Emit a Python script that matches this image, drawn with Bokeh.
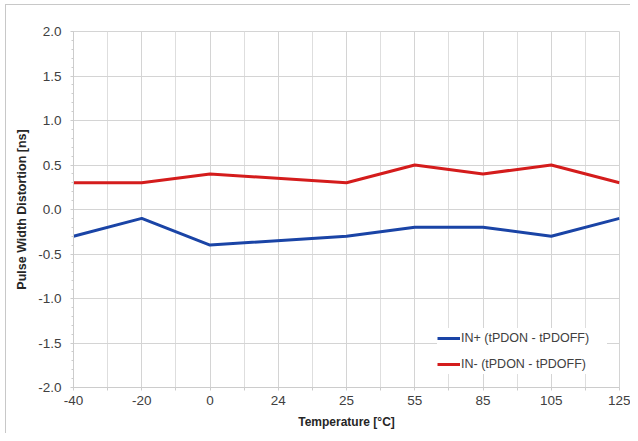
from bokeh.plotting import figure
from bokeh.models import FixedTicker, SingleIntervalTicker, NumeralTickFormatter, Range1d, Legend, LegendItem
from bokeh.embed import file_html
from bokeh.resources import INLINE

# ---- data ----
temps = ["-40", "-20", "0", "24", "25", "55", "85", "105", "125"]
in_plus = [-0.3, -0.1, -0.4, None, -0.3, -0.2, -0.2, -0.3, -0.1]
in_minus = [0.3, 0.3, 0.4, None, 0.3, 0.5, 0.4, 0.5, 0.3]
series_names = ["IN+ (tPDON - tPDOFF)", "IN- (tPDON - tPDOFF)"]
series_colors = ["#1a44a6", "#d41c1c"]

FONT = "Liberation Sans"

p = figure(width=630, height=433, output_backend="svg", toolbar_location=None,
           x_range=Range1d(0, len(temps) - 1), y_range=Range1d(-2.0, 2.0),
           min_border_left=73, min_border_top=31, min_border_right=11, min_border_bottom=46)
p.border_fill_alpha = 0
p.background_fill_color = "white"
p.styles = {
    "background": "linear-gradient(#c8c8c8, #c8c8c8) 5px 4px / 100% 1px no-repeat, "
                  "linear-gradient(#c8c8c8, #c8c8c8) 5px 4px / 1px 100% no-repeat, white",
}

p.outline_line_color = "#d4d4d4"
p.outline_line_width = 1

idx = list(range(len(temps)))
renderers = []
for vals, color in zip([in_plus, in_minus], series_colors):
    xs = [i for i, v in zip(idx, vals) if v is not None]
    ys = [v for v in vals if v is not None]
    r = p.line(xs, ys, line_color=color, line_width=3)
    renderers.append(r)

# x axis
p.xaxis.ticker = FixedTicker(ticks=idx, minor_ticks=[i + 0.5 for i in idx[:-1]])
p.xaxis.major_label_overrides = {i: t for i, t in zip(idx, temps)}
p.xaxis.axis_label = "Temperature [°C]"
p.xgrid.ticker = p.xaxis.ticker
p.xgrid.grid_line_color = "#d4d4d4"
p.xgrid.minor_grid_line_color = "#dedede"

# y axis
p.yaxis.ticker = SingleIntervalTicker(interval=0.5, num_minor_ticks=5)
p.yaxis.formatter = NumeralTickFormatter(format="0.0")
p.yaxis.axis_label = "Pulse Width Distortion [ns]"
p.ygrid.grid_line_color = "#d4d4d4"

for ax in [p.xaxis[0], p.yaxis[0]]:
    ax.axis_line_color = "#cccccc"
    ax.major_tick_line_color = "#cccccc"
    ax.minor_tick_line_color = "#cccccc"
    ax.major_tick_in = 0
    ax.minor_tick_in = 0
    ax.major_tick_out = 3
    ax.minor_tick_out = 2
    ax.major_label_text_font = FONT
    ax.major_label_text_font_size = "13.5px"
    ax.major_label_text_color = "#404040"
    ax.axis_label_text_font = FONT
    ax.axis_label_text_font_size = "12.5px"
    ax.axis_label_text_font_style = "bold"
    ax.axis_label_text_color = "#262626"
p.xaxis.axis_label_text_font_size = "12px"
p.xaxis.minor_tick_out = 3
p.xaxis.major_label_standoff = 5
p.xaxis.axis_label_standoff = 7
p.yaxis.major_label_standoff = 9
p.yaxis.axis_label_standoff = 6

legend = Legend(items=[LegendItem(label=n, renderers=[r]) for n, r in zip(series_names, renderers)],
                location=(364, 13), orientation="vertical")
legend.border_line_color = None
legend.background_fill_color = "white"
legend.background_fill_alpha = 1.0
legend.padding = 8
legend.margin = 0
legend.spacing = 6
legend.glyph_width = 23
legend.glyph_height = 20
legend.label_height = 20
legend.label_width = 146
legend.label_standoff = 1
legend.label_text_font = FONT
legend.label_text_font_size = "12.5px"
legend.label_text_color = "#404040"
p.add_layout(legend, "center")

open("out.html", "w").write(file_html(p, INLINE))
